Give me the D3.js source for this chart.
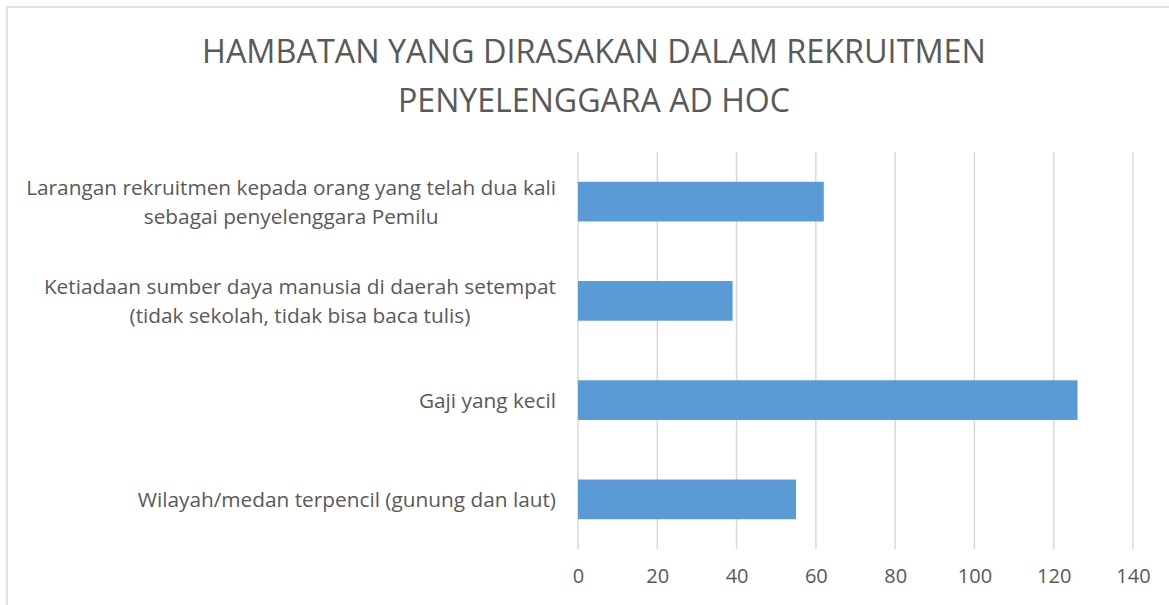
<!DOCTYPE html>
<html>
<head>
<meta charset="utf-8">
<script src="https://cdn.jsdelivr.net/npm/d3@7"></script>
<style>
  body { margin: 0; background: #fff; }
  svg { display: block; font-family: "Open Sans", sans-serif; }
</style>
</head>
<body>
<svg width="1169" height="605"></svg>
<script>
// Data
const categories = [
    ["Larangan rekruitmen kepada orang yang telah dua kali", "sebagai penyelenggara Pemilu"],
    ["Ketiadaan sumber daya manusia di daerah setempat", "(tidak sekolah, tidak bisa baca tulis)"],
    ["Gaji yang kecil"],
    ["Wilayah/medan terpencil (gunung dan laut)"]
];
const values = [62, 39, 126, 55];
const xTicks = [0, 20, 40, 60, 80, 100, 120, 140];
const titleLines = ["HAMBATAN YANG DIRASAKAN DALAM REKRUITMEN", "PENYELENGGARA AD HOC"];

const svg = d3.select("svg");
const textColor = "#595959";
const gridColor = "#d9d9d9";

// chart frame
svg.append("rect")
    .attr("x", 7).attr("y", 7)
    .attr("width", 1175).attr("height", 615)
    .attr("fill", "none")
    .attr("stroke", gridColor)
    .attr("stroke-width", 1.5);

// Title
const titleWidths = [784, 392];
svg.selectAll(".title")
    .data(titleLines)
    .enter().append("text")
    .attr("class", "title")
    .attr("x", 594)
    .attr("y", (d, i) => 63 + i * 49)
    .attr("text-anchor", "middle")
    .attr("fill", textColor)
    .style("font-size", "33px")
    .attr("textLength", (d, i) => titleWidths[i])
    .attr("lengthAdjust", "spacingAndGlyphs")
    .text(d => d);

// Scales
const plot = { left: 578, right: 1133, top: 152, bottom: 549 };
const xScale = d3.scaleLinear().domain([0, 140]).range([plot.left, plot.right]);
const yScale = d3.scaleBand()
    .domain(d3.range(categories.length))
    .range([plot.top, plot.bottom])
    .paddingInner(0.6)
    .paddingOuter(0.3);

// Gridlines
svg.append("g")
    .selectAll("line")
    .data(xTicks)
    .enter().append("line")
    .attr("x1", d => xScale(d)).attr("x2", d => xScale(d))
    .attr("y1", plot.top).attr("y2", plot.bottom)
    .attr("stroke", gridColor)
    .attr("stroke-width", 1.5);

// X axis
const xAxis = svg.append("g")
    .attr("transform", `translate(0,${plot.bottom})`)
    .call(d3.axisBottom(xScale).tickValues(xTicks).tickSize(0).tickPadding(20));
xAxis.select(".domain").remove();
xAxis.selectAll("text")
    .attr("fill", textColor)
    .style("font-size", "20px")
    .style("font-family", "'Open Sans', sans-serif");

// Bars
svg.append("g")
    .selectAll("rect")
    .data(values)
    .enter().append("rect")
    .attr("x", xScale(0))
    .attr("y", (d, i) => yScale(i))
    .attr("width", d => xScale(d) - xScale(0))
    .attr("height", yScale.bandwidth())
    .attr("fill", "#5b9bd5");

// Category labels (multi-line, centred block, right aligned to the axis)
const labelRight = 556;
const lineHeight = 29;
categories.forEach((lines, i) => {
    const cy = yScale(i) + yScale.bandwidth() / 2;
    const t = svg.append("text")
        .attr("fill", textColor)
        .attr("text-anchor", "middle")
        .style("font-size", "20.8px");
    lines.forEach((line, j) => {
        t.append("tspan")
            .attr("y", cy + (j - (lines.length - 1) / 2) * lineHeight + 7.5)
            .text(line);
    });
    const w = d3.max(t.selectAll("tspan").nodes(), n => n.getComputedTextLength());
    t.selectAll("tspan").attr("x", labelRight - w / 2);
});
</script>
</body>
</html>
